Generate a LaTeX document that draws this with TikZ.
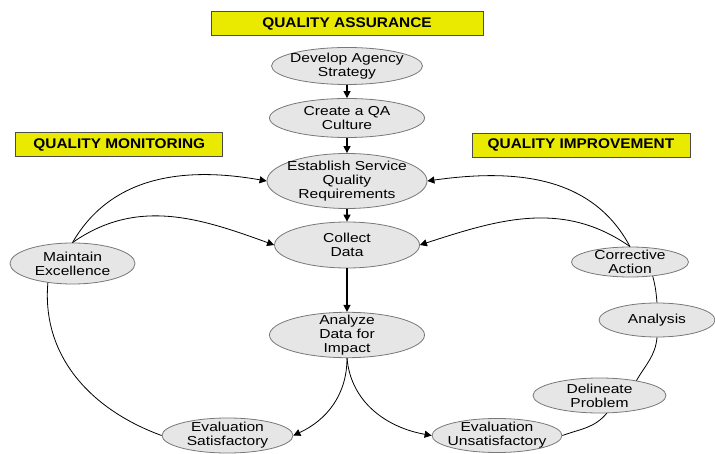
\documentclass[tikz,border=0pt]{standalone}
\usepackage{fontspec}
\setmainfont{Liberation Sans}[FakeStretch=1.2]
\newfontfamily\boxfont{Liberation Sans}[FakeStretch=1.1]
\usetikzlibrary{shapes.geometric, arrows.meta}
\definecolor{qayellow}{RGB}{234,234,0}
\definecolor{stagefill}{RGB}{230,230,230}
\definecolor{stageline}{RGB}{120,120,120}
\tikzset{
	x=1pt, y=-1pt,
	stage/.style={ellipse, draw=stageline, fill=stagefill, line width=0.8pt, inner xsep=-12pt, inner ysep=-4pt, align=center, text=black, font=\fontsize{13}{14}\selectfont},
	banner/.style={draw=black!70, fill=qayellow, line width=0.8pt, minimum height=24pt, font=\boxfont\bfseries\fontsize{14}{16}\selectfont},
	flow/.style={draw,-{Triangle[length=7pt,width=7pt]},line width=1.4pt},
	feed/.style={draw,-{Triangle[length=7pt,width=7pt]},line width=0.8pt},
	link/.style={draw,line width=0.8pt}
}

\begin{document}
\begin{tikzpicture}
\useasboundingbox (0,0) rectangle (715,454);
\node (qa) [banner, minimum width=272pt] at (347,23.7) {QUALITY ASSURANCE};
\node (qm) [banner, minimum width=207pt] at (119.3,144.5) {QUALITY MONITORING};
\node (qi) [banner, minimum width=218pt] at (581,145) {QUALITY IMPROVEMENT};
\node (dev) [stage, minimum width=151pt, minimum height=37pt] at (347,66) {Develop Agency\\Strategy};
\node (culture) [stage, minimum width=155pt, minimum height=39pt] at (347,118) {Create a QA\\Culture};
\node (req) [stage, minimum width=160pt, minimum height=55pt] at (347,181) {Establish Service\\Quality\\Requirements};
\node (collect) [stage, minimum width=145pt, minimum height=46pt] at (347,245) {Collect\\Data};
\node (impact) [stage, minimum width=155pt, minimum height=45pt] at (347,335) {Analyze\\Data for\\Impact};
\node (maint) [stage, minimum width=125pt, minimum height=41pt] at (72.5,263.5) {Maintain\\Excellence};
\node (evsat) [stage, minimum width=131pt, minimum height=35pt] at (227.5,435.5) {Evaluation\\Satisfactory};
\node (evunsat) [stage, minimum width=130pt, minimum height=34pt] at (497,435.5) {Evaluation\\Unsatisfactory};
\node (corr) [stage, minimum width=117pt, minimum height=30pt] at (630,262) {Corrective\\Action};
\node (analysis) [stage, minimum width=116pt, minimum height=34pt] at (657,320) {Analysis};
\node (delin) [stage, minimum width=133pt, minimum height=35pt] at (599.5,395.5) {Delineate\\Problem};
\draw[flow] (dev) -- (culture); \draw[flow] (culture) -- (req);
\draw[flow] (req) -- (collect); \draw[flow] (collect) -- (impact);
\draw[feed] (maint.north) to[out=60, in=170] (req.west);
\draw[feed] (maint.north) to[out=35, in=160] (collect.west);
\draw[link] (maint.218) to[out=265, in=160] (evsat.west);
\draw[feed] (impact.south) to[out=270, in=25] (evsat.east);
\draw[feed] (impact.south) to[out=275, in=170] (evunsat.west);
\draw[link] (evunsat.east) to[out=20, in=230] (delin.292);
\draw[link] (delin.22) to[out=60, in=265] (analysis.south);
\draw[link] (analysis.north) to[out=95, in=285] (corr.328);
\draw[feed] (corr.north) to[out=118, in=8] (req.east);
\draw[feed] (corr.north) to[out=145, in=18] (collect.east);
\end{tikzpicture}
\end{document}
